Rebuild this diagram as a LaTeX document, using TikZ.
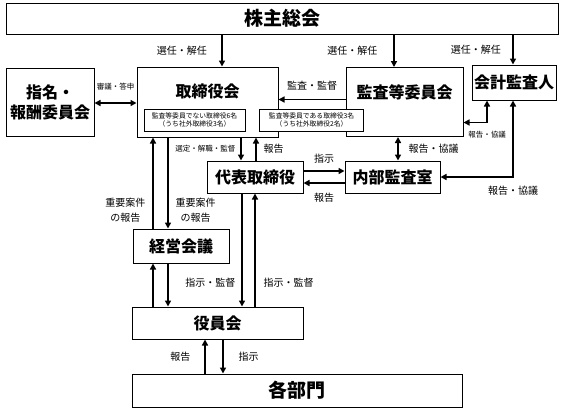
\documentclass[tikz,border=0pt]{standalone}
\usepackage{fontspec}
\setmainfont{Noto Sans CJK JP}
\usepackage{tikz}
\usetikzlibrary {arrows.meta,
                 positioning}
\tikzset{
        base/.style={draw, line width=1pt, align=center, inner sep=0pt},
        unitbox/.style={base, font=\bfseries\fontsize{16}{20}\selectfont},
        widebox/.style={base, font=\bfseries\fontsize{19}{22}\selectfont},
        subbox/.style={base, fill=white, line width=0.6pt,
                       font=\fontsize{6.8}{8}\selectfont},
        heading/.style={font=\bfseries\fontsize{16}{20}\selectfont},
        lbl/.style={font=\fontsize{10}{15}\selectfont, align=center},
        slbl/.style={font=\fontsize{7.5}{9}\selectfont},
        myarrow/.style={-{Triangle[length=6pt, width=6pt]}, line width=1.7pt},
        twoway/.style={{Triangle[length=6pt, width=6pt]}-{Triangle[length=6pt, width=6pt]},
                       line width=1.7pt},
 }
\begin{document}
\begin{tikzpicture}[x=1pt, y=-1pt]
    \useasboundingbox (0,0) rectangle (564,413);

    \node[widebox, minimum width=552pt, minimum height=31pt] (a) at (282,18.5) {株主総会};
    \node[base, minimum width=141pt, minimum height=70pt] (c) at (207.5,102) {};
    \node[unitbox, minimum width=88pt, minimum height=68pt, left=42pt of c] (b) {指名・\\報酬委員会};
    \node[base, minimum width=117pt, minimum height=69pt, right=67pt of c] (d) {};
    \node[unitbox, minimum width=84pt, minimum height=35pt] (e) at (514,82.5) {会計監査人};
    \node[heading] (ct) at ([yshift=-25pt]c.north) {取締役会};
    \node[heading] (dt) at ([yshift=-25pt]d.north) {監査等委員会};
    \node[subbox, minimum width=101pt, minimum height=22pt] (c1) at (194.5,120)
        {監査等委員でない取締役6名\\（うち社外取締役3名）};
    \node[subbox, minimum width=104pt, minimum height=22pt, right=14pt of c1] (c2)
        {監査等委員である取締役3名\\（うち社外取締役2名）};
    \node[unitbox, minimum width=96pt, minimum height=32pt] (f) at (255,177) {代表取締役};
    \node[unitbox, minimum width=95pt, minimum height=32pt, right=41pt of f] (g) {内部監査室};
    \node[unitbox, minimum width=96pt, minimum height=34pt] (h) at (181,246) {経営会議};
    \node[unitbox, minimum width=171pt, minimum height=32pt] (i) at (217.5,323) {役員会};
    \node[widebox, minimum width=330pt, minimum height=33pt] (j) at (297,390.5) {各部門};

    \draw[myarrow] ([xshift=14.5pt]c.north |- a.south) -- node[lbl, left=11pt] {選任・解任} ([xshift=14.5pt]c.north);
    \draw[myarrow] ([xshift=-10.5pt]d.north |- a.south) -- node[lbl, left=12.5pt] {選任・解任} ([xshift=-10.5pt]d.north);
    \draw[myarrow] ([xshift=-1pt]e.north |- a.south) -- node[lbl, left=8pt] {選任・解任} ([xshift=-1pt]e.north);

    \draw[myarrow] ([yshift=2.5pt]d.west) -- node[lbl, above=5pt] {監査・監督} ([yshift=2.5pt]d.west -| c.east);
    \draw[twoway] ([yshift=-1pt]b.east) -- node[slbl, above=9pt] {審議・答申} ([yshift=-1pt]b.east -| c.west);
    \draw[twoway] ([yshift=-20.5pt]d.east) -| node[pos=0.5, slbl, below=4.5pt] {報告・協議} ([xshift=-27pt]e.south);
    \draw[twoway] ([xshift=-1pt]e.south) |- node[pos=0.5, lbl, below=5pt] {報告・協議} (g.east);
    \draw[twoway] ([xshift=5.5pt]g.north) -- node[lbl, right=6.5pt] {報告・協議} ([xshift=5.5pt]g.north |- d.south);

    \draw[myarrow] ([xshift=-14pt]f.north |- c.south) -- node[slbl, left=1.5pt] {選定・解職・監督} ([xshift=-14pt]f.north);
    \draw[myarrow] ([xshift=1pt]f.north) -- node[lbl, right=3.5pt] {報告} ([xshift=1pt]f.north |- c.south);
    \draw[myarrow] ([yshift=6pt]f.east) -- node[lbl, above=3.5pt] {指示} ([yshift=6pt]f.east -| g.west);
    \draw[myarrow] ([yshift=-6pt]g.west) -- node[lbl, below=5.5pt] {報告} ([yshift=-6pt]g.west -| f.east);

    \draw[myarrow] ([xshift=-28pt]h.north) -- node[lbl, left=3.5pt, pos=0.2] {重要案件\\の報告} ([xshift=-28pt]h.north |- c.south);
    \draw[myarrow] ([xshift=-13pt]h.north |- c.south) -- node[lbl, right=3.5pt, pos=0.8] {重要案件\\の報告} ([xshift=-13pt]h.north);
    \draw[myarrow] ([xshift=-28pt]h.south |- i.north) -- ([xshift=-28pt]h.south);
    \draw[myarrow] ([xshift=-13pt]h.south) -- ([xshift=-13pt]h.south |- i.north);
    \draw[myarrow] ([xshift=-13pt]f.south) -- node[lbl, left=2.5pt, pos=0.79] {指示・監督} ([xshift=-13pt]f.south |- i.north);
    \draw[myarrow] (f.south |- i.north) -- node[lbl, right=4.5pt, pos=0.21] {指示・監督} (f.south);

    \draw[myarrow] ([xshift=-12.5pt]i.south |- j.north) -- node[lbl, left=10.5pt] {報告} ([xshift=-12.5pt]i.south);
    \draw[myarrow] ([xshift=5.5pt]i.south) -- node[lbl, right=11.5pt] {指示} ([xshift=5.5pt]i.south |- j.north);
\end{tikzpicture}
\end{document}
